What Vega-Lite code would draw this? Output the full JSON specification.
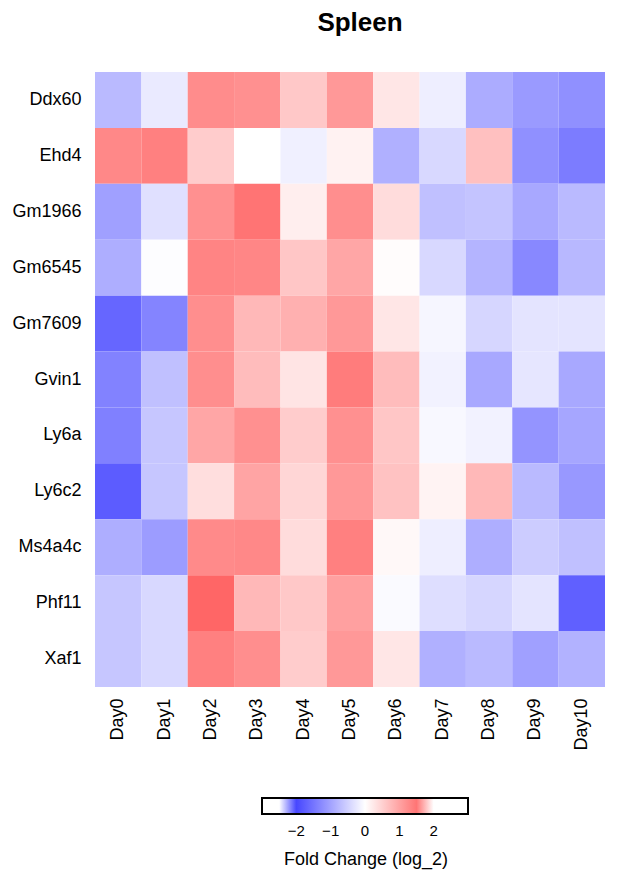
{
  "$schema": "https://vega.github.io/schema/vega-lite/v6.json",
  "width": 510,
  "height": 615,
  "autosize": {"type": "none"},
  "padding": {"left": 95, "top": 72, "right": 14, "bottom": 190},
  "config": {"font": "Liberation Sans", "view": {"stroke": null}},
  "title": {"text": "Spleen", "fontSize": 26, "fontWeight": "bold", "color": "black", "offset": 36, "dx": 10, "anchor": "middle"},
  "data": {"values": [
    {"gene":"Ddx60","day":"Day0","v":-0.75},{"gene":"Ddx60","day":"Day1","v":-0.23},{"gene":"Ddx60","day":"Day2","v":1.25},{"gene":"Ddx60","day":"Day3","v":1.21},{"gene":"Ddx60","day":"Day4","v":0.6},{"gene":"Ddx60","day":"Day5","v":1.12},{"gene":"Ddx60","day":"Day6","v":0.27},{"gene":"Ddx60","day":"Day7","v":-0.18},{"gene":"Ddx60","day":"Day8","v":-0.9},{"gene":"Ddx60","day":"Day9","v":-1.1},{"gene":"Ddx60","day":"Day10","v":-1.21},
    {"gene":"Ehd4","day":"Day0","v":1.29},{"gene":"Ehd4","day":"Day1","v":1.38},{"gene":"Ehd4","day":"Day2","v":0.55},{"gene":"Ehd4","day":"Day3","v":0.0},{"gene":"Ehd4","day":"Day4","v":-0.16},{"gene":"Ehd4","day":"Day5","v":0.14},{"gene":"Ehd4","day":"Day6","v":-0.86},{"gene":"Ehd4","day":"Day7","v":-0.42},{"gene":"Ehd4","day":"Day8","v":0.68},{"gene":"Ehd4","day":"Day9","v":-1.21},{"gene":"Ehd4","day":"Day10","v":-1.42},
    {"gene":"Gm1966","day":"Day0","v":-1.03},{"gene":"Gm1966","day":"Day1","v":-0.34},{"gene":"Gm1966","day":"Day2","v":1.21},{"gene":"Gm1966","day":"Day3","v":1.51},{"gene":"Gm1966","day":"Day4","v":0.18},{"gene":"Gm1966","day":"Day5","v":1.23},{"gene":"Gm1966","day":"Day6","v":0.38},{"gene":"Gm1966","day":"Day7","v":-0.68},{"gene":"Gm1966","day":"Day8","v":-0.64},{"gene":"Gm1966","day":"Day9","v":-0.95},{"gene":"Gm1966","day":"Day10","v":-0.75},
    {"gene":"Gm6545","day":"Day0","v":-0.88},{"gene":"Gm6545","day":"Day1","v":-0.02},{"gene":"Gm6545","day":"Day2","v":1.34},{"gene":"Gm6545","day":"Day3","v":1.32},{"gene":"Gm6545","day":"Day4","v":0.62},{"gene":"Gm6545","day":"Day5","v":0.97},{"gene":"Gm6545","day":"Day6","v":0.03},{"gene":"Gm6545","day":"Day7","v":-0.42},{"gene":"Gm6545","day":"Day8","v":-0.82},{"gene":"Gm6545","day":"Day9","v":-1.29},{"gene":"Gm6545","day":"Day10","v":-0.77},
    {"gene":"Gm7609","day":"Day0","v":-1.66},{"gene":"Gm7609","day":"Day1","v":-1.34},{"gene":"Gm7609","day":"Day2","v":1.23},{"gene":"Gm7609","day":"Day3","v":0.77},{"gene":"Gm7609","day":"Day4","v":0.86},{"gene":"Gm7609","day":"Day5","v":1.12},{"gene":"Gm7609","day":"Day6","v":0.27},{"gene":"Gm7609","day":"Day7","v":-0.1},{"gene":"Gm7609","day":"Day8","v":-0.45},{"gene":"Gm7609","day":"Day9","v":-0.29},{"gene":"Gm7609","day":"Day10","v":-0.29},
    {"gene":"Gvin1","day":"Day0","v":-1.36},{"gene":"Gvin1","day":"Day1","v":-0.68},{"gene":"Gvin1","day":"Day2","v":1.23},{"gene":"Gvin1","day":"Day3","v":0.73},{"gene":"Gvin1","day":"Day4","v":0.29},{"gene":"Gvin1","day":"Day5","v":1.42},{"gene":"Gvin1","day":"Day6","v":0.73},{"gene":"Gvin1","day":"Day7","v":-0.14},{"gene":"Gvin1","day":"Day8","v":-0.95},{"gene":"Gvin1","day":"Day9","v":-0.27},{"gene":"Gvin1","day":"Day10","v":-0.95},
    {"gene":"Ly6a","day":"Day0","v":-1.38},{"gene":"Ly6a","day":"Day1","v":-0.62},{"gene":"Ly6a","day":"Day2","v":0.97},{"gene":"Ly6a","day":"Day3","v":1.21},{"gene":"Ly6a","day":"Day4","v":0.55},{"gene":"Ly6a","day":"Day5","v":1.21},{"gene":"Ly6a","day":"Day6","v":0.62},{"gene":"Ly6a","day":"Day7","v":-0.08},{"gene":"Ly6a","day":"Day8","v":-0.14},{"gene":"Ly6a","day":"Day9","v":-1.16},{"gene":"Ly6a","day":"Day10","v":-0.97},
    {"gene":"Ly6c2","day":"Day0","v":-1.77},{"gene":"Ly6c2","day":"Day1","v":-0.62},{"gene":"Ly6c2","day":"Day2","v":0.36},{"gene":"Ly6c2","day":"Day3","v":0.99},{"gene":"Ly6c2","day":"Day4","v":0.45},{"gene":"Ly6c2","day":"Day5","v":1.12},{"gene":"Ly6c2","day":"Day6","v":0.66},{"gene":"Ly6c2","day":"Day7","v":0.13},{"gene":"Ly6c2","day":"Day8","v":0.77},{"gene":"Ly6c2","day":"Day9","v":-0.75},{"gene":"Ly6c2","day":"Day10","v":-1.12},
    {"gene":"Ms4a4c","day":"Day0","v":-0.88},{"gene":"Ms4a4c","day":"Day1","v":-1.08},{"gene":"Ms4a4c","day":"Day2","v":1.27},{"gene":"Ms4a4c","day":"Day3","v":1.29},{"gene":"Ms4a4c","day":"Day4","v":0.38},{"gene":"Ms4a4c","day":"Day5","v":1.38},{"gene":"Ms4a4c","day":"Day6","v":0.08},{"gene":"Ms4a4c","day":"Day7","v":-0.18},{"gene":"Ms4a4c","day":"Day8","v":-0.88},{"gene":"Ms4a4c","day":"Day9","v":-0.55},{"gene":"Ms4a4c","day":"Day10","v":-0.68},
    {"gene":"Phf11","day":"Day0","v":-0.62},{"gene":"Phf11","day":"Day1","v":-0.42},{"gene":"Phf11","day":"Day2","v":1.66},{"gene":"Phf11","day":"Day3","v":0.77},{"gene":"Phf11","day":"Day4","v":0.6},{"gene":"Phf11","day":"Day5","v":1.03},{"gene":"Phf11","day":"Day6","v":-0.05},{"gene":"Phf11","day":"Day7","v":-0.36},{"gene":"Phf11","day":"Day8","v":-0.45},{"gene":"Phf11","day":"Day9","v":-0.29},{"gene":"Phf11","day":"Day10","v":-1.73},
    {"gene":"Xaf1","day":"Day0","v":-0.62},{"gene":"Xaf1","day":"Day1","v":-0.42},{"gene":"Xaf1","day":"Day2","v":1.38},{"gene":"Xaf1","day":"Day3","v":1.23},{"gene":"Xaf1","day":"Day4","v":0.55},{"gene":"Xaf1","day":"Day5","v":1.12},{"gene":"Xaf1","day":"Day6","v":0.27},{"gene":"Xaf1","day":"Day7","v":-0.86},{"gene":"Xaf1","day":"Day8","v":-0.75},{"gene":"Xaf1","day":"Day9","v":-1.03},{"gene":"Xaf1","day":"Day10","v":-0.84}
  ]},
  "mark": {"type": "rect"},
  "encoding": {
    "x": {"field": "day", "type": "nominal",
      "sort": ["Day0","Day1","Day2","Day3","Day4","Day5","Day6","Day7","Day8","Day9","Day10"],
      "scale": {"paddingInner": 0, "paddingOuter": 0},
      "axis": {"title": null, "ticks": false, "domain": false, "labelAngle": 270, "labelAlign": "right", "labelBaseline": "middle", "labelFontSize": 18, "labelColor": "black", "labelPadding": 11}},
    "y": {"field": "gene", "type": "nominal",
      "sort": ["Ddx60","Ehd4","Gm1966","Gm6545","Gm7609","Gvin1","Ly6a","Ly6c2","Ms4a4c","Phf11","Xaf1"],
      "scale": {"paddingInner": 0, "paddingOuter": 0},
      "axis": {"title": null, "ticks": false, "domain": false, "labelFontSize": 18, "labelColor": "black", "labelPadding": 14}},
    "color": {"field": "v", "type": "quantitative",
      "scale": {"type": "linear", "interpolate": "rgb", "domain": [-3, -2, -2, 0, 2, 2, 3], "range": ["#ffffff", "#ffffff", "#4747ff", "#ffffff", "#ff4747", "#ffffff", "#ffffff"]},
      "legend": {"orient": "none", "legendX": 167, "legendY": 726, "direction": "horizontal", "gradientLength": 206, "gradientThickness": 16, "gradientStrokeColor": "black", "gradientStrokeWidth": 2, "values": [-2, -1, 0, 1, 2], "labelFontSize": 15, "labelColor": "black", "labelOffset": 10, "title": "Fold Change (log_2)", "titleOrient": "bottom", "titleAnchor": "middle", "titleFontSize": 18, "titleFontWeight": "normal", "titleColor": "black", "titlePadding": 12}}
  }
}
